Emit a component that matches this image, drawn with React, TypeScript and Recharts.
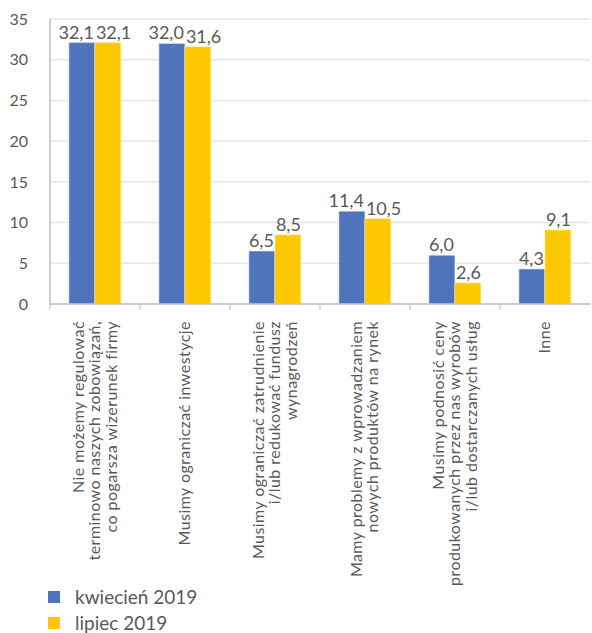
import React from 'react';
import { BarChart, Bar, XAxis, YAxis, CartesianGrid, LabelList, Legend } from 'recharts';

const categories = [
  'Nie możemy regulować\nterminowo naszych zobowiązań,\nco pogarsza wizerunek firmy',
  'Musimy ograniczać inwestycje',
  'Musimy ograniczać zatrudnienie\ni/lub redukować fundusz\nwynagrodzeń',
  'Mamy problemy z wprowadzaniem\nnowych produktów na rynek',
  'Musimy podnosić ceny\nprodukowanych przez nas wyrobów\ni/lub dostarczanych usług',
  'Inne',
];
const april2019 = [32.1, 32.0, 6.5, 11.4, 6.0, 4.3];
const july2019 = [32.1, 31.6, 8.5, 10.5, 2.6, 9.1];
const yTicks = [0, 5, 10, 15, 20, 25, 30, 35];
const seriesNames = ['kwiecień 2019', 'lipiec 2019'];
const colors = ['#4F73BD', '#FFC800'];

const data = categories.map((c, i) => ({ name: c, a: april2019[i], b: july2019[i] }));

const FONT = 'Lato, "Open Sans", sans-serif';
const TEXT = '#595959';

const fmt = (v: number) => v.toFixed(1).replace('.', ',');

const CategoryTick = (props: any) => {
  const { x, y, payload } = props;
  const lines = String(payload.value).split('\n');
  const n = lines.length;
  const lh = 16.5;
  const half = payload.offset || 0;
  const axisY = y - 8;
  return (
    <g>
      <line x1={x - half} y1={axisY} x2={x - half} y2={axisY + 6} stroke="#BFBFBF" strokeWidth={1} />
      <g transform={`translate(${x},${y})`}>
        <text transform="rotate(-90)" textAnchor="end" fontFamily={FONT} fontSize={16} letterSpacing={0.45} fill={TEXT}>
          {lines.map((l, i) => (
            <tspan key={i} x={-9} y={(i - (n - 1) / 2) * lh + 5}>
              {l}
            </tspan>
          ))}
        </text>
      </g>
    </g>
  );
};

const makeLabel = (anchor: 'start' | 'end') => (props: any) => {
  const { x, y, width, value } = props;
  const tx = anchor === 'end' ? x + width - 1 : x + 1;
  return (
    <text x={tx} y={y - 4} textAnchor={anchor} fontFamily={FONT} fontSize={18} fill={TEXT}>
      {fmt(value)}
    </text>
  );
};

const LegendContent = () => (
  <div style={{ fontFamily: FONT, fontSize: 19, color: TEXT, lineHeight: '22px' }}>
    {seriesNames.map((s, i) => (
      <div key={s} style={{ display: 'flex', alignItems: 'center', height: 26 }}>
        <span style={{ display: 'inline-block', width: 12, height: 12, background: colors[i], marginRight: 15 }} />
        <span>{s}</span>
      </div>
    ))}
  </div>
);

export default function App() {
  return (
    <div style={{ position: 'absolute', left: 0, top: 0, background: '#fff' }}>
      <BarChart
        width={592}
        height={633}
        data={data}
        margin={{ top: 19, right: 2, bottom: 0, left: 0 }}
        barCategoryGap="21%"
        barGap={0}
      >
        <CartesianGrid vertical={false} stroke="#E6E6E6" strokeWidth={1.5} />
        <YAxis
          width={50}
          domain={[0, 35]}
          ticks={yTicks}
          interval={0}
          tickLine={false}
          tickMargin={16}
          axisLine={{ stroke: '#BFBFBF', strokeWidth: 1.5 }}
          tick={{ fontFamily: FONT, fontSize: 16, fill: TEXT }}
        />
        <XAxis
          dataKey="name"
          height={329}
          interval={0}
          tickLine={false}
          axisLine={{ stroke: '#BFBFBF', strokeWidth: 1.5 }}
          tick={<CategoryTick />}
        />
        <Legend
          layout="vertical"
          align="center"
          verticalAlign="middle"
          wrapperStyle={{ top: 584, left: 48, width: 300, height: 52 }}
          content={<LegendContent />}
        />
        <Bar dataKey="a" name={seriesNames[0]} fill={colors[0]} stroke="#DDE4F2" strokeWidth={0.6} isAnimationActive={false}>
          <LabelList dataKey="a" content={makeLabel('end')} />
        </Bar>
        <Bar dataKey="b" name={seriesNames[1]} fill={colors[1]} stroke="#FFF1C0" strokeWidth={0.6} isAnimationActive={false}>
          <LabelList dataKey="b" content={makeLabel('start')} />
        </Bar>
      </BarChart>
    </div>
  );
}
